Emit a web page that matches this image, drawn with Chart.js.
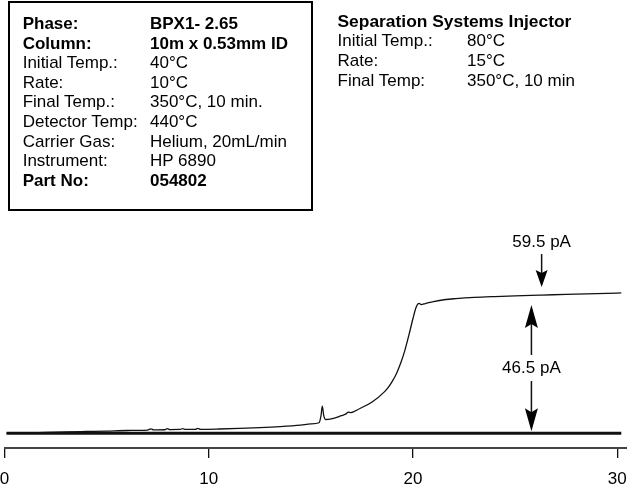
<!DOCTYPE html>
<html>
<head>
<meta charset="utf-8">
<script src="https://cdn.jsdelivr.net/npm/chart.js@4.4.1/dist/chart.umd.min.js"></script>
<style>
  body { margin: 0; background: #fff; }
  #page { position: relative; width: 627px; height: 485px; overflow: hidden;
    font-family: "Liberation Sans", Arial, Helvetica, sans-serif; color: #000; }
  #chart { position: absolute; left: 0; top: 0; }
  .specs { position: absolute; font-size: 17px; line-height: 19.6px; white-space: nowrap; }
  .specs div span:first-child { display: inline-block; }
  .specs b { font-weight: bold; }
  #column { left: 8px; top: 1px; width: 305px; height: 210px; box-sizing: border-box;
    border: 2px solid #000; padding: 11px 0 0 12.7px; }
  #column span:first-child { width: 127.3px; }
  #injector { left: 337.5px; top: 11px; line-height: 20px; }
  #injector span:first-child { width: 129.5px; }
  #injector .head { font-size: 17.4px; }
</style>
</head>
<body>
<div id="page">
  <canvas id="chart" width="627" height="485"></canvas>
  <div class="specs" id="column">
    <div><b><span>Phase:</span><span>BPX1- 2.65</span></b></div>
    <div><b><span>Column:</span><span>10m x 0.53mm ID</span></b></div>
    <div><span>Initial Temp.:</span><span>40°C</span></div>
    <div><span>Rate:</span><span>10°C</span></div>
    <div><span>Final Temp.:</span><span>350°C, 10 min.</span></div>
    <div><span>Detector Temp:</span><span>440°C</span></div>
    <div><span>Carrier Gas:</span><span>Helium, 20mL/min</span></div>
    <div><span>Instrument:</span><span>HP 6890</span></div>
    <div><b><span>Part No:</span><span>054802</span></b></div>
  </div>
  <div class="specs" id="injector">
    <div class="head"><b>Separation Systems Injector</b></div>
    <div><span>Initial Temp.:</span><span>80°C</span></div>
    <div><span>Rate:</span><span>15°C</span></div>
    <div><span>Final Temp:</span><span>350°C, 10 min</span></div>
  </div>
</div>
<script>
// retention time (min) and detector signal (pA) of the blank run
const traceTime = [
  0.1, 1.0, 2.0, 3.0, 4.0, 5.0, 6.0, 7.0, 7.18, 7.3,
  7.85, 7.96, 8.1, 8.6, 8.73, 8.85, 9.35, 9.46, 9.6, 10.5,
  11.5, 12.5, 13.5, 14.5, 15.0, 15.4, 15.5, 15.56, 15.63, 15.72,
  16.0, 16.5, 16.7, 16.84, 16.95, 17.4, 18.0, 18.6, 18.8, 19.0,
  19.2, 19.4, 19.6, 19.8, 20.0, 20.15, 20.25, 20.3, 20.4, 20.6,
  21.0, 21.6, 22.1, 23.0, 24.0, 25.0, 26.3, 27.5, 28.5, 29.5,
  30.2
];
const traceSignal = [
  13.0, 13.1, 13.25, 13.4, 13.55, 13.7, 13.9, 14.05, 14.45, 14.1,
  14.15, 14.5, 14.2, 14.25, 14.55, 14.25, 14.3, 14.6, 14.3, 14.4,
  14.6, 14.85, 15.2, 15.7, 16.1, 16.5, 19.0, 22.1, 19.0, 17.6,
  17.8, 18.9, 19.4, 20.1, 19.9, 21.3, 23.5, 26.9, 28.5, 30.6,
  33.2, 36.6, 40.8, 46.0, 51.6, 55.3, 56.6, 56.7, 56.3, 56.6,
  57.3, 58.0, 58.3, 58.7, 59.0, 59.25, 59.5, 59.7, 59.9, 60.05,
  60.2
];

const timeTicks = [0, 10, 20, 30];

// measured levels
const plateauSignal = 59.5;
const riseSignal = 46.5;
const baselineSignal = plateauSignal - riseSignal;
const baselineSpan = [0.1, 30.2];
const plateauMarkTime = 26.3;
const riseMarkTime = 25.8;

const fontFamily = '"Liberation Sans", Arial, Helvetica, sans-serif';

function arrowHead(ctx, x, tipY, dir, len, half) {
  // dir = 1 points down, -1 points up
  ctx.beginPath();
  ctx.moveTo(x, tipY);
  ctx.lineTo(x - half, tipY - dir * len);
  ctx.lineTo(x, tipY - dir * len * 0.82);
  ctx.lineTo(x + half, tipY - dir * len);
  ctx.closePath();
  ctx.fill();
}

const levelMarks = {
  id: 'levelMarks',
  afterDatasetsDraw(chart) {
    const { ctx, scales: { x, y } } = chart;
    ctx.save();
    ctx.fillStyle = '#000';
    ctx.strokeStyle = '#111';
    ctx.lineWidth = 1.5;
    ctx.font = '17px ' + fontFamily;
    ctx.textAlign = 'center';
    ctx.textBaseline = 'middle';

    // plateau level, arrow pointing down onto the trace
    const px = x.getPixelForValue(plateauMarkTime);
    const tipTop = y.getPixelForValue(plateauSignal) - 8;
    ctx.fillText(plateauSignal + ' pA', px, tipTop - 45);
    ctx.beginPath();
    ctx.moveTo(px, tipTop - 33);
    ctx.lineTo(px, tipTop - 8);
    ctx.stroke();
    arrowHead(ctx, px, tipTop, 1, 17, 6);

    // rise from baseline to plateau, double arrow
    const rx = x.getPixelForValue(riseMarkTime);
    const upTip = y.getPixelForValue(plateauSignal) + 10;
    const downTip = y.getPixelForValue(baselineSignal) - 2;
    const mid = (upTip + downTip) / 2;
    ctx.fillText(riseSignal + ' pA', rx, mid);
    ctx.beginPath();
    ctx.moveTo(rx, upTip + 10);
    ctx.lineTo(rx, mid - 13);
    ctx.moveTo(rx, mid + 13);
    ctx.lineTo(rx, downTip - 10);
    ctx.stroke();
    arrowHead(ctx, rx, upTip, -1, 23, 6.5);
    arrowHead(ctx, rx, downTip, 1, 23, 6.5);
    ctx.restore();
  }
};

new Chart(document.getElementById('chart'), {
  type: 'line',
  data: {
    datasets: [
      {
        data: traceTime.map((t, i) => ({ x: t, y: traceSignal[i] })),
        borderColor: '#111',
        borderWidth: 1.3,
        pointRadius: 0,
        cubicInterpolationMode: 'monotone'
      },
      {
        data: baselineSpan.map(t => ({ x: t, y: baselineSignal })),
        borderColor: '#111',
        borderWidth: 3,
        pointRadius: 0
      }
    ]
  },
  options: {
    responsive: false,
    animation: false,
    events: [],
    layout: { padding: { top: 230, left: 4.5, right: 0, bottom: 0 } },
    plugins: { legend: { display: false }, tooltip: { enabled: false } },
    scales: {
      x: {
        type: 'linear',
        min: 0,
        max: 30.48,
        afterBuildTicks: s => { s.ticks = timeTicks.map(v => ({ value: v })); },
        afterFit: s => {
          // axis sits 37px above the bottom edge, no extra room for the end labels
          s.height = 37;
          s.paddingLeft = 0;
          s.paddingRight = 0;
        },
        grid: { drawOnChartArea: false, tickLength: 10, color: '#111', lineWidth: 1.3 },
        border: { color: '#444', width: 2 },
        ticks: { color: '#000', padding: 11, maxRotation: 0,
          font: { family: fontFamily, size: 17 } }
      },
      y: { display: false, min: 8, max: 81.4 }
    }
  },
  plugins: [levelMarks]
});
</script>
</body>
</html>
